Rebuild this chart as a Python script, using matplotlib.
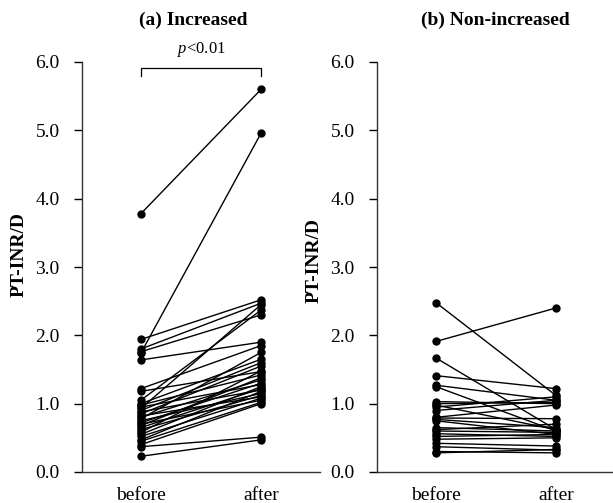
import numpy as np
import matplotlib
matplotlib.use("Agg")
from matplotlib import pyplot as plt

plt.rcParams['font.family'] = ['Liberation Serif', 'DejaVu Serif']
plt.rcParams['mathtext.fontset'] = 'custom'
plt.rcParams['mathtext.it'] = 'Liberation Serif:italic'
plt.rcParams['mathtext.rm'] = 'Liberation Serif'

groups = ['before', 'after']
yticks = [0.0, 1.0, 2.0, 3.0, 4.0, 5.0, 6.0]

# (a) Increased
inc_before = [3.78, 1.74, 1.94, 1.80, 1.76, 1.64, 1.22, 1.18, 1.05, 1.00, 0.98,
              0.95, 0.93, 0.90, 0.88, 0.85, 0.82, 0.80, 0.78, 0.75, 0.72, 0.70,
              0.68, 0.65, 0.62, 0.58, 0.55, 0.52, 0.47, 0.45, 0.40, 0.37, 0.23]
inc_after = [5.60, 4.96, 2.52, 2.47, 2.30, 1.90, 1.85, 1.47, 2.37, 1.65, 1.42,
             1.28, 2.45, 1.60, 1.20, 1.55, 1.10, 1.35, 1.75, 1.15, 1.30, 1.05,
             1.38, 1.22, 1.12, 1.48, 1.25, 1.08, 1.18, 1.02, 1.00, 0.51, 0.47]

# (b) Non-increased
non_before = [2.48, 1.91, 1.67, 1.41, 1.27, 1.25, 1.03, 1.00, 0.98, 0.95, 0.90,
              0.80, 0.79, 0.77, 0.75, 0.65, 0.62, 0.60, 0.56, 0.52, 0.48, 0.42,
              0.37, 0.30, 0.28]
non_after = [1.12, 2.40, 0.62, 1.22, 1.05, 0.60, 1.00, 1.02, 0.62, 1.10, 1.05,
             0.98, 0.78, 0.65, 0.55, 0.60, 0.70, 0.58, 0.52, 0.55, 0.50, 0.38,
             0.32, 0.28, 0.33]

fig = plt.figure(figsize=(6.13, 5.03), dpi=100)
ax1 = fig.add_axes([82/613, 31/503, 238/613, 410/503])
ax2 = fig.add_axes([377/613, 31/503, 236/613, 410/503])

panels = [(ax1, inc_before, inc_after, '(a) Increased', (-0.49, 1.49), (-0.227, 0.53), 0.466),
          (ax2, non_before, non_after, '(b) Non-increased', (-0.49, 1.475), (-0.229, 0.515), 0.5)]

for ax, b, a, title, xl, lab, tx in panels:
    for yb, ya in zip(b, a):
        ax.plot([0, 1], [yb, ya], color='black', lw=1.0, marker='o',
                markersize=5, clip_on=False)
    ax.set_xlim(*xl)
    ax.set_ylim(0, 6)
    ax.set_yticks(yticks)
    ax.set_yticklabels(['%.1f' % t for t in yticks], fontsize=14)
    ax.set_xticks([0, 1])
    ax.set_xticklabels(groups, fontsize=14)
    ax.tick_params(axis='x', length=0, pad=11)
    ax.tick_params(axis='y', length=6, width=1, direction='out', pad=10)
    for s in ['top', 'right']:
        ax.spines[s].set_visible(False)
    for s in ['left', 'bottom']:
        ax.spines[s].set_linewidth(1.0)
        ax.spines[s].set_color('#333333')
    ax.set_ylabel('PT-INR/D', fontsize=14, fontweight='bold')
    ax.yaxis.set_label_coords(*lab)
    ax.set_title(title, fontsize=14, fontweight='bold', pad=27, x=tx)

# significance bracket
ax1.plot([0, 0, 1, 1], [5.80, 5.91, 5.91, 5.80], color='black', lw=0.9, clip_on=False)
ax1.text(0.5, 6.13, r'$p$<0.01', ha='center', va='baseline', fontsize=12)

fig.savefig('out.png', dpi=100)
